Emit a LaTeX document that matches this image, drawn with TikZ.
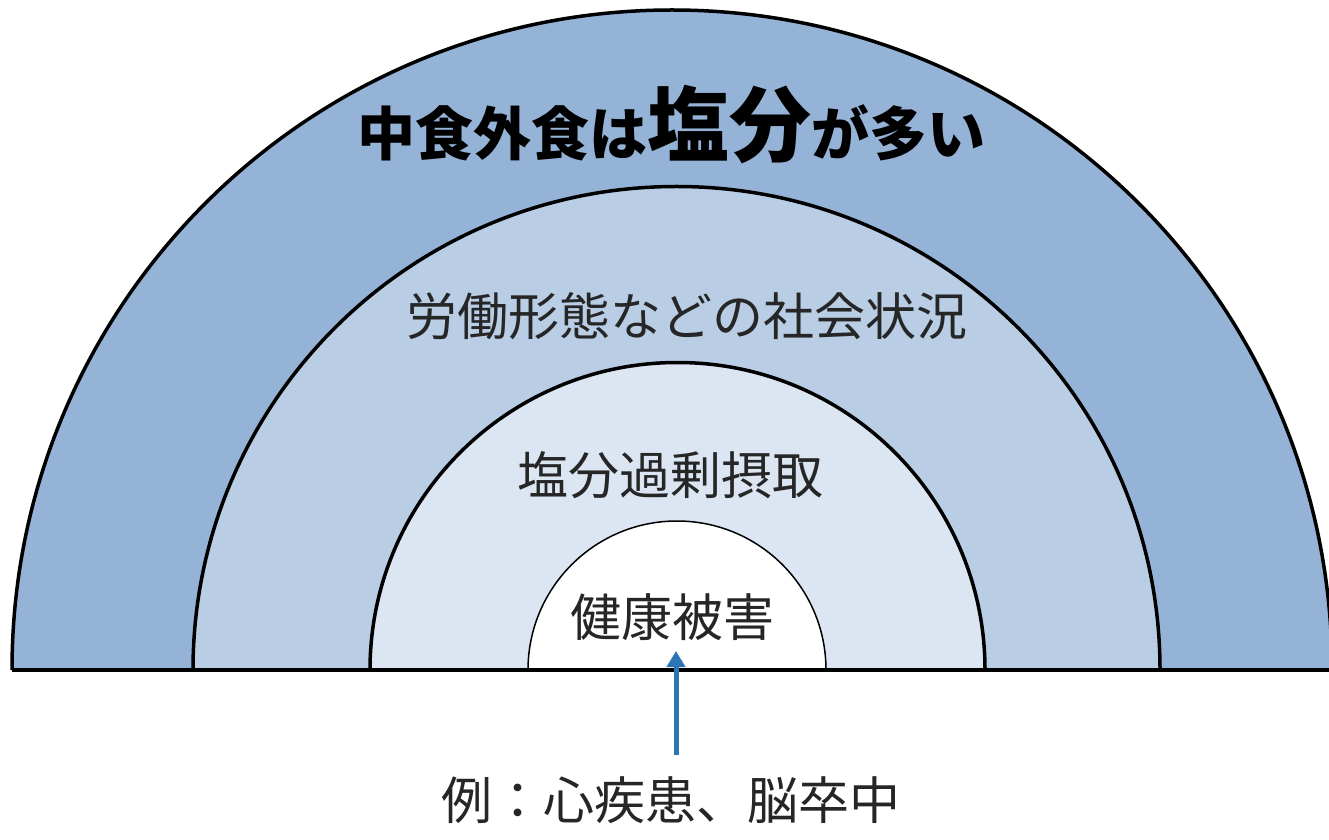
\documentclass[tikz,border=0pt]{standalone}
\usepackage{fontspec}
\newfontfamily\jp{Noto Sans CJK JP}
\usetikzlibrary{arrows.meta}
\definecolor{ringA}{HTML}{95B3D7}
\definecolor{ringB}{HTML}{B9CDE5}
\definecolor{ringC}{HTML}{DCE6F2}
\definecolor{txt}{HTML}{262626}
\definecolor{arrowblue}{HTML}{2E75B6}
\tikzset{
  ringline/.style={draw=black, line width=3.5pt},
  thinring/.style={draw=black, line width=1.5pt},
  label/.style={font=\jp\fontsize{51}{60}\selectfont, text=txt, inner sep=0pt},
  pointer/.style={draw=arrowblue, line width=5pt, -{Triangle[length=16pt,width=18pt]}}
}
\begin{document}
\begin{tikzpicture}[x=1pt,y=1pt]
\useasboundingbox (0,0) rectangle (1329,839);
\begin{scope}
\clip (0,0) rectangle (1329,839);
% fills
\fill[ringA] (12,169) arc[start angle=180,end angle=0,radius=660pt] -- cycle;
\fill[ringB] (193,169) arc[start angle=180,end angle=0,radius=483.5pt] -- cycle;
\fill[ringC] (370,169) arc[start angle=180,end angle=0,radius=307.5pt] -- cycle;
\fill[white] (528,169) arc[start angle=180,end angle=0,radius=149pt] -- cycle;
% outlines
\draw[ringline] (12,169) arc[start angle=180,end angle=0,radius=660pt];
\draw[ringline] (193,169) arc[start angle=180,end angle=0,radius=483.5pt];
\draw[ringline] (370,169) arc[start angle=180,end angle=0,radius=307.5pt];
\draw[thinring] (528,169) arc[start angle=180,end angle=0,radius=149pt];
\draw[ringline] (12,169) -- (1332,169);
\end{scope}
% texts
\node[inner sep=0pt, font=\jp\bfseries, text=black] (title) at (671,714)
  {\fontsize{58}{70}\selectfont 中食外食は\fontsize{82}{95}\selectfont 塩分\fontsize{58}{70}\selectfont が多い};
\node[label] (social) at (687,523) {労働形態などの社会状況};
\node[label] (excess) at (670,364) {塩分過剰摂取};
\node[label] (harm) at (672,222) {健康被害};
\node[label] (ex) at (671,39) {例：心疾患、脳卒中};
\coordinate (tail) at (676,84);
\coordinate (tip) at (676,188);
\draw[pointer] (tail) -- (tip);
\end{tikzpicture}
\end{document}
